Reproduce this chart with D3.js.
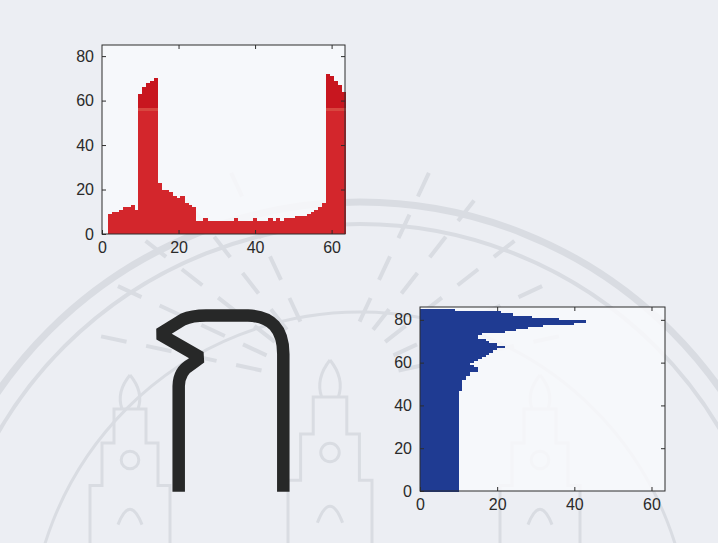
<!DOCTYPE html>
<html>
<head>
<meta charset="utf-8">
<script src="https://cdn.jsdelivr.net/npm/d3@7"></script>
<style>
  html, body { margin: 0; padding: 0; background: #eceef3; }
  svg { display: block; font-family: "Liberation Sans", Arial, Helvetica, sans-serif; }
</style>
</head>
<body>
<svg id="page" width="718" height="543"></svg>
<script>
// Vertical projection: number of ink pixels in each image column (columns 1..63)
const columnIndex = [
  1, 2, 3, 4, 5, 6, 7, 8, 9, 10, 11, 12, 13, 14, 15, 16, 17, 18, 19, 20, 21,
  22, 23, 24, 25, 26, 27, 28, 29, 30, 31, 32, 33, 34, 35, 36, 37, 38, 39, 40, 41, 42,
  43, 44, 45, 46, 47, 48, 49, 50, 51, 52, 53, 54, 55, 56, 57, 58, 59, 60, 61, 62, 63
];
const columnCounts = [
  0, 9, 10, 10, 11, 12, 12, 13, 11, 63, 66, 68, 69, 70, 23, 20, 20, 19, 17, 16, 17,
  14, 13, 12, 6, 6, 7, 6, 6, 6, 6, 6, 6, 6, 7, 6, 6, 6, 6, 7, 6, 6,
  6, 7, 6, 7, 6, 7, 7, 7, 8, 8, 8, 9, 10, 11, 12, 14, 72, 71, 69, 67, 64
];

// Horizontal projection: number of ink pixels in each image row (rows 1..85, bottom up)
const rowIndex = [
  1, 2, 3, 4, 5, 6, 7, 8, 9, 10, 11, 12, 13, 14, 15, 16, 17, 18, 19, 20,
  21, 22, 23, 24, 25, 26, 27, 28, 29, 30, 31, 32, 33, 34, 35, 36, 37, 38, 39, 40,
  41, 42, 43, 44, 45, 46, 47, 48, 49, 50, 51, 52, 53, 54, 55, 56, 57, 58, 59, 60,
  61, 62, 63, 64, 65, 66, 67, 68, 69, 70, 71, 72, 73, 74, 75, 76, 77, 78, 79, 80,
  81, 82, 83, 84, 85
];
const rowCounts = [
  10, 10, 10, 10, 10, 10, 10, 10, 10, 10, 10, 10, 10, 10, 10, 10, 10, 10, 10, 10,
  10, 10, 10, 10, 10, 10, 10, 10, 10, 10, 10, 10, 10, 10, 10, 10, 10, 10, 10, 10,
  10, 10, 10, 10, 10, 10, 10, 11, 11, 11, 11, 11, 12, 12, 13, 13, 15, 15, 14, 13,
  14, 15, 16, 17, 18, 19, 20, 22, 20, 18, 17, 15, 15, 16, 22, 25, 28, 32, 40, 43,
  36, 29, 24, 21, 9
];

// Axis ticks
const colTicks = [0, 20, 40, 60];
const colValueTicks = [0, 20, 40, 60, 80];
const rowValueTicks = [0, 20, 40, 60];
const rowTicks = [0, 20, 40, 60, 80];

const svg = d3.select("#page");
const defs = svg.append("defs");

// page background
svg.append("rect").attr("width", 718).attr("height", 543).attr("fill", "#eceef3");

// ---------- seal watermark printed on the page ----------
const wm = svg.append("g")
  .attr("fill", "none")
  .attr("stroke", "#d9dce2");

wm.append("circle").attr("cx", 360).attr("cy", 642).attr("r", 440).attr("stroke-width", 7);
wm.append("circle").attr("cx", 360).attr("cy", 642).attr("r", 418).attr("stroke-width", 4);
wm.append("circle").attr("cx", 360).attr("cy", 642).attr("r", 330).attr("stroke-width", 3);

// rays around the central spire
const rayAngles = [-168, -155, -142, -128, -115, -65, -52, -38, -25, -12];
rayAngles.forEach(a => {
  const t = a * Math.PI / 180;
  wm.append("line")
    .attr("x1", 330 + 70 * Math.cos(t)).attr("y1", 385 + 70 * Math.sin(t))
    .attr("x2", 330 + 250 * Math.cos(t)).attr("y2", 385 + 250 * Math.sin(t))
    .attr("stroke-width", 4)
    .attr("stroke-dasharray", "26 20");
});

// three spires of the emblem
function spire(cx, base, h, w) {
  const g = wm.append("g").attr("stroke-width", 3);
  g.append("path").attr("d",
    `M${cx - w},${base} L${cx - w},${base - h * 0.35} L${cx - w * 0.7},${base - h * 0.35}
     L${cx - w * 0.7},${base - h * 0.6} L${cx - w * 0.4},${base - h * 0.6}
     L${cx - w * 0.4},${base - h * 0.8} L${cx + w * 0.4},${base - h * 0.8}
     L${cx + w * 0.4},${base - h * 0.6} L${cx + w * 0.7},${base - h * 0.6}
     L${cx + w * 0.7},${base - h * 0.35} L${cx + w},${base - h * 0.35} L${cx + w},${base}`);
  g.append("path").attr("d",
    `M${cx},${base - h} Q${cx - w * 0.35},${base - h * 0.9} ${cx - w * 0.2},${base - h * 0.8}
     M${cx},${base - h} Q${cx + w * 0.35},${base - h * 0.9} ${cx + w * 0.2},${base - h * 0.8}`);
  g.append("circle").attr("cx", cx).attr("cy", base - h * 0.5).attr("r", w * 0.22);
  g.append("path").attr("d",
    `M${cx - w * 0.3},${base - h * 0.12} Q${cx},${base - h * 0.3} ${cx + w * 0.3},${base - h * 0.12}`);
}
spire(130, 545, 170, 40);
spire(330, 545, 185, 42);
spire(540, 545, 170, 40);

// ---------- column projection (red) ----------
const topBox = { left: 102, right: 345, top: 45, bottom: 234 };
const xTop = d3.scaleLinear().domain([0, 63.5]).range([topBox.left, topBox.right]);
const yTop = d3.scaleLinear().domain([0, 85]).range([topBox.bottom, topBox.top]);

const redGrad = defs.append("linearGradient")
  .attr("id", "redFill").attr("gradientUnits", "userSpaceOnUse")
  .attr("x1", 0).attr("x2", 0).attr("y1", yTop(85)).attr("y2", yTop(0));
const splitA = (yTop(56.5) - yTop(85)) / (yTop(0) - yTop(85));
const splitB = (yTop(55.5) - yTop(85)) / (yTop(0) - yTop(85));
redGrad.append("stop").attr("offset", 0).attr("stop-color", "#c8161f");
redGrad.append("stop").attr("offset", splitA).attr("stop-color", "#c8161f");
redGrad.append("stop").attr("offset", splitA).attr("stop-color", "#d8463f");
redGrad.append("stop").attr("offset", splitB).attr("stop-color", "#d8463f");
redGrad.append("stop").attr("offset", splitB).attr("stop-color", "#d3262c");
redGrad.append("stop").attr("offset", 1).attr("stop-color", "#d3262c");

svg.append("rect")
  .attr("x", topBox.left).attr("y", topBox.top)
  .attr("width", topBox.right - topBox.left).attr("height", topBox.bottom - topBox.top)
  .attr("fill", "#f8f9fb").attr("fill-opacity", 0.85);

const topData = columnIndex.map((c, i) => ({ c, v: columnCounts[i] }));
svg.append("g").attr("shape-rendering", "crispEdges")
  .selectAll("rect").data(topData.filter(d => d.v > 0)).join("rect")
  .attr("x", d => xTop(d.c - 0.5))
  .attr("width", d => xTop(d.c + 0.5) - xTop(d.c - 0.5) + 0.5)
  .attr("y", d => yTop(d.v))
  .attr("height", d => yTop(0) - yTop(d.v))
  .attr("fill", "url(#redFill)");

// ---------- row projection (blue) ----------
const botBox = { left: 420, right: 665, top: 307, bottom: 491 };
const xBot = d3.scaleLinear().domain([0, 63.5]).range([botBox.left, botBox.right]);
const yBot = d3.scaleLinear().domain([0, 86]).range([botBox.bottom, botBox.top]);

svg.append("rect")
  .attr("x", botBox.left).attr("y", botBox.top)
  .attr("width", botBox.right - botBox.left).attr("height", botBox.bottom - botBox.top)
  .attr("fill", "#f8f9fb").attr("fill-opacity", 0.85);

const botData = rowIndex.map((r, i) => ({ r, v: rowCounts[i] }));
svg.append("g").attr("shape-rendering", "crispEdges")
  .selectAll("rect").data(botData).join("rect")
  .attr("x", xBot(0))
  .attr("width", d => xBot(d.v) - xBot(0))
  .attr("y", d => yBot(d.r))
  .attr("height", d => yBot(d.r - 1) - yBot(d.r) + 0.6)
  .attr("fill", "#1f3b92");

// ---------- the character glyph ----------
svg.append("path")
  .attr("d", "M178.7,491.7 L178.7,386 Q179,371 191,364.5 L200.5,357.5 L159.5,334 L183,319.5 Q192,315.5 206,315.5 L248,315.5 Q283.3,316.5 283.3,354 L283.3,491.7")
  .attr("fill", "none")
  .attr("stroke", "#272828")
  .attr("stroke-width", 12.5)
  .attr("stroke-linejoin", "bevel")
  .attr("stroke-linecap", "butt");

// ---------- axes ----------
function frame(box, xs, ys, xt, yt) {
  const g = svg.append("g").attr("color", "#2d2d2d");
  const ax = (gen, tx, ty, labels) => {
    const a = g.append("g").attr("transform", `translate(${tx},${ty})`).call(gen);
    a.select(".domain").remove();
    a.selectAll("text").attr("font-size", 16).attr("fill", "#2a2a2a");
    if (!labels) a.selectAll("text").remove();
    return a;
  };
  ax(d3.axisBottom(xs).tickValues(xt).tickSizeInner(-4).tickSizeOuter(0).tickPadding(8).tickFormat(d3.format("d")), 0, box.bottom, true);
  ax(d3.axisTop(xs).tickValues(xt.filter(v => v > 0)).tickSizeInner(-4).tickSizeOuter(0), 0, box.top, false);
  ax(d3.axisLeft(ys).tickValues(yt).tickSizeInner(-4).tickSizeOuter(0).tickPadding(8).tickFormat(d3.format("d")), box.left, 0, true);
  ax(d3.axisRight(ys).tickValues(yt.filter(v => v > 0)).tickSizeInner(-4).tickSizeOuter(0), box.right, 0, false);
  g.append("rect")
    .attr("x", box.left).attr("y", box.top)
    .attr("width", box.right - box.left).attr("height", box.bottom - box.top)
    .attr("fill", "none").attr("stroke", "#2d2d2d").attr("stroke-width", 1);
}
frame(topBox, xTop, yTop, colTicks, colValueTicks);
frame(botBox, xBot, yBot, rowValueTicks, rowTicks);
</script>
</body>
</html>
